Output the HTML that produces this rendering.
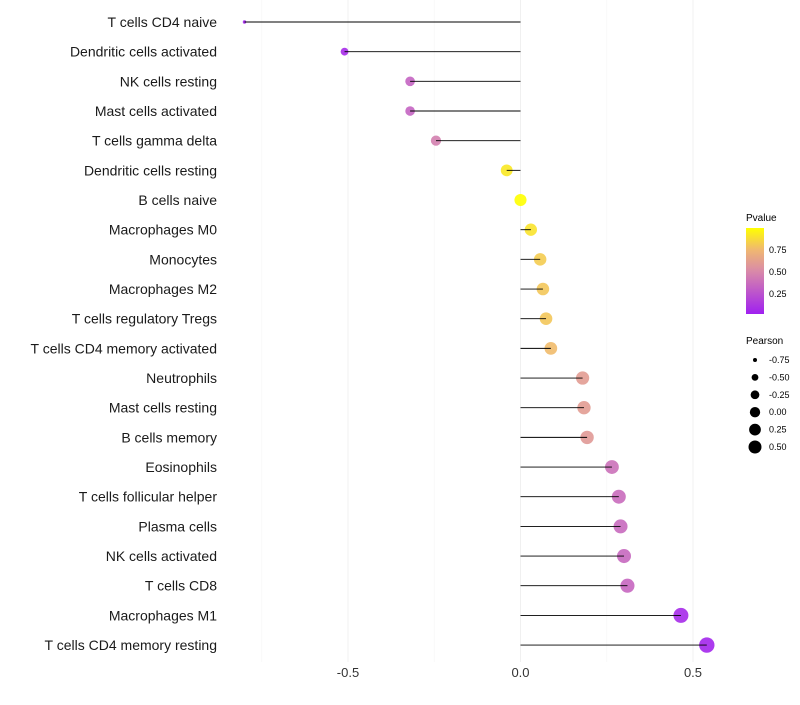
<!DOCTYPE html>
<html><head><meta charset="utf-8"><style>
body{margin:0;background:#fff;font-family:"Liberation Sans",sans-serif}
</style></head><body>
<svg id="chart" width="800" height="700" xmlns="http://www.w3.org/2000/svg" font-family="Liberation Sans, sans-serif">
<defs><linearGradient id="pg" x1="0" y1="1" x2="0" y2="0">
<stop offset="0" stop-color="#A020F0"/><stop offset="0.5" stop-color="#D98AA8"/><stop offset="0.75" stop-color="#F0B870"/><stop offset="1" stop-color="#FFFF00"/></linearGradient></defs>
<g id="grid"></g><g id="dots"></g><g id="marks"></g><g id="labels"></g>
<g>
<text x="746" y="221" font-size="10">Pvalue</text>
<rect x="746" y="228" width="18" height="86" fill="url(#pg)"/>
<text x="769" y="253" font-size="9">0.75</text><text x="769" y="275" font-size="9">0.50</text><text x="769" y="297" font-size="9">0.25</text>
</g>
<g id="sizeleg"><text x="746" y="344" font-size="10">Pearson</text></g>
</svg>
<script>
const categories=["T cells CD4 naive","Dendritic cells activated","NK cells resting","Mast cells activated","T cells gamma delta","Dendritic cells resting","B cells naive","Macrophages M0","Monocytes","Macrophages M2","T cells regulatory  Tregs ","T cells CD4 memory activated","Neutrophils","Mast cells resting","B cells memory","Eosinophils","T cells follicular helper","Plasma cells","NK cells activated","T cells CD8","Macrophages M1","T cells CD4 memory resting"];
const pearson=[-0.80,-0.51,-0.32,-0.32,-0.245,-0.04,0.0,0.03,0.057,0.065,0.074,0.088,0.18,0.184,0.193,0.265,0.285,0.29,0.30,0.31,0.465,0.54];
const pvalue=[0.02,0.05,0.32,0.32,0.45,0.92,1.0,0.9,0.82,0.8,0.8,0.76,0.6,0.6,0.58,0.38,0.36,0.35,0.34,0.33,0.05,0.03];
const xTicks=[-0.5,0,0.5];
const xTickLabels=["-0.5","0.0","0.5"];
const xMinor=[-0.75,-0.25,0.25];
const legendVals=[-0.75,-0.5,-0.25,0,0.25,0.5];
const legendLabels=["-0.75","-0.50","-0.25","0.00","0.25","0.50"];
const NS="http://www.w3.org/2000/svg";
const X=v=>520.5+v*345;
const Y=i=>22+i*29.67;
const R=v=>Math.sqrt(Math.max(1,3+42*(v+0.8)));
const RL=v=>Math.sqrt(Math.max(1,4+30.4*(v+0.75)));
function lerp(a,b,t){return a.map((x,i)=>Math.round(x+(b[i]-x)*t));}
const stops=[[0,[160,32,240]],[0.5,[217,138,168]],[0.75,[240,184,112]],[1,[255,255,0]]];
function col(p){for(let k=1;k<stops.length;k++){if(p<=stops[k][0]){const t=(p-stops[k-1][0])/(stops[k][0]-stops[k-1][0]);const c=lerp(stops[k-1][1],stops[k][1],t);return `rgb(${c})`;}}return "rgb(255,255,0)";}
function mk(tag,attrs,parent){const e=document.createElementNS(NS,tag);for(const k in attrs)e.setAttribute(k,attrs[k]);parent.appendChild(e);return e;}
const grid=document.getElementById('grid'),dots=document.getElementById('dots'),marks=document.getElementById('marks'),labels=document.getElementById('labels');
xMinor.forEach(v=>{const l=mk('line',{x1:X(v),x2:X(v),y1:0,y2:662,stroke:'#f5f5f5','stroke-width':0.6},grid);

});
xTicks.forEach((v,i)=>{const l=mk('line',{x1:X(v),x2:X(v),y1:0,y2:662,stroke:'#f0f0f0','stroke-width':1},grid);


const t=mk('text',{x:X(v),y:677,'font-size':13,'text-anchor':'middle',fill:'#333'},labels);t.textContent=xTickLabels[i];

});
categories.forEach((c,i)=>{const y=Y(i);
const d=mk('circle',{cx:X(pearson[i]),cy:y,r:R(pearson[i]),fill:col(pvalue[i]),'fill-opacity':0.9},dots);


const ln=mk('line',{x1:X(0),x2:X(pearson[i]),y1:y,y2:y,stroke:'#000','stroke-width':0.9},marks);


const t=mk('text',{x:217,y:y+5,'font-size':14,'text-anchor':'end',fill:'#1a1a1a'},labels);t.textContent=c;

});
const sl=document.getElementById('sizeleg');
legendVals.forEach((v,i)=>{const y=360+i*17.4;
const c=mk('circle',{cx:755,cy:y,r:RL(v),fill:'#000'},sl);


const t=mk('text',{x:769,y:y+3,'font-size':9},sl);t.textContent=legendLabels[i];

});
</script>
</body></html>
